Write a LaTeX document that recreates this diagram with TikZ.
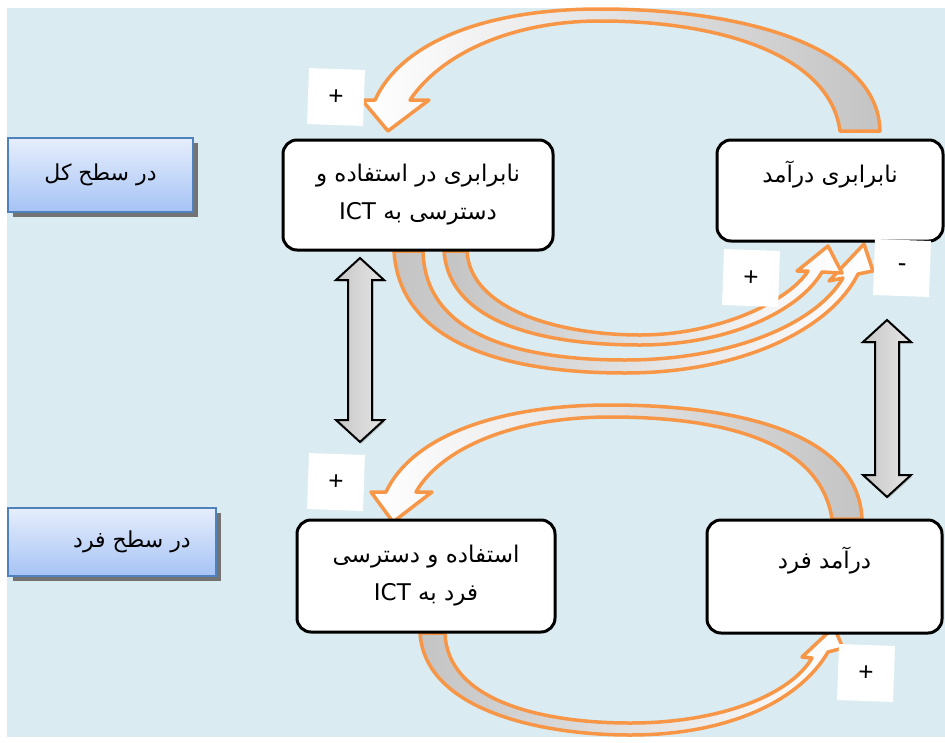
\documentclass[tikz,border=0pt]{standalone}
\usepackage{fontspec}
\setmainfont{Liberation Sans}
\newfontfamily\arabicfont[Script=Arabic]{DejaVu Sans}
\TeXXeTstate=1
\usetikzlibrary{shadows}
\definecolor{bgblue}{RGB}{218,236,242}
\definecolor{orng}{RGB}{247,150,70}
\definecolor{lbltop}{RGB}{230,238,252}
\definecolor{lblbot}{RGB}{166,195,245}
\definecolor{lblborder}{RGB}{79,129,189}
\definecolor{ribgray}{RGB}{196,196,196}
\begin{document}
\begin{tikzpicture}[x=1pt,y=-1pt,
  box/.style={draw=black, line width=3pt, rounded corners=14pt, fill=white, inner sep=0pt, align=center,
    font=\arabicfont\fontsize{23}{38}\selectfont},
  lvl/.style={draw=lblborder, line width=1.5pt, top color=lbltop, bottom color=lblbot, inner sep=0pt,
    font=\arabicfont\fontsize{22}{26}\selectfont,
    drop shadow={shadow xshift=5pt, shadow yshift=-5pt, fill=black!55, opacity=1}},
  sign/.style={fill=white, minimum size=56pt, inner sep=0pt, rotate=-2, font=\fontsize{26}{28}\selectfont},
  ribbon/.style={draw=orng, line width=3.5pt, line join=round},
  dbl/.style={draw=black, line width=2pt, line join=miter, left color=black!22, right color=black!10,
    drop shadow={shadow xshift=1.5pt, shadow yshift=-1.5pt, opacity=0.35}},
]
\useasboundingbox (0,0) rectangle (945,742);
\fill[white] (0,0) rectangle (945,742);
\fill[bgblue] (7,8) rectangle (945,737);

% level labels
\node[lvl, minimum width=185pt, minimum height=74pt] (lk) at (100.5,175) {\raisebox{6pt}{\beginR در سطح کل\endR}};
\node[lvl, minimum width=208pt, minimum height=68pt] (lf) at (112,542) {\hspace*{40pt}\beginR در سطح فرد\endR};

% ribbons (curved block arrows)
% top: B -> A
\draw[ribbon, left color=white, middle color=white, right color=ribgray]
  (880,131) .. controls (878,45) and (740,9) .. (600,9)
  .. controls (480,9) and (400,45) .. (375,100)
  -- (362,100) -- (388,131) -- (429,100) -- (410,100)
  .. controls (440,55) and (510,21) .. (600,21)
  .. controls (720,21) and (830,55) .. (840,131) -- cycle;
% middle: D -> C
\draw[ribbon, left color=white, middle color=white, right color=ribgray]
  (862,519) .. controls (858,430) and (730,405) .. (610,405)
  .. controls (490,405) and (410,440) .. (386,492)
  -- (371,492) -- (393,522) -- (432,492) -- (416,492)
  .. controls (440,450) and (510,417) .. (610,417)
  .. controls (720,417) and (820,440) .. (832,519) -- cycle;
% lower outer: A -> B (-)
\draw[ribbon, left color=ribgray, middle color=white, right color=white]
  (394,251) .. controls (400,350) and (520,373) .. (625,373)
  .. controls (740,373) and (830,330) .. (858,274)
  -- (873,271) -- (864,244) -- (829,281) -- (843,278)
  .. controls (815,325) and (730,360) .. (625,360)
  .. controls (530,360) and (425,340) .. (423,251) -- cycle;
% lower inner: A -> B (+)
\draw[ribbon, left color=ribgray, middle color=white, right color=white]
  (444,251) .. controls (450,330) and (560,345) .. (640,345)
  .. controls (730,345) and (800,310) .. (822,272)
  -- (842,273) -- (828,246) -- (797,271) -- (808,271)
  .. controls (790,300) and (720,335) .. (640,335)
  .. controls (560,335) and (470,310) .. (467,251) -- cycle;
% bottom: C -> D
\draw[ribbon, left color=ribgray, middle color=white, right color=white]
  (420,633) .. controls (425,710) and (540,735) .. (630,735)
  .. controls (730,735) and (800,700) .. (828,652)
  -- (843,648) -- (834,627) -- (802,657) -- (812,658)
  .. controls (790,695) and (720,723) .. (630,723)
  .. controls (540,723) and (447,700) .. (445,633) -- cycle;

% main boxes
\node[box, minimum width=270pt, minimum height=110pt] (A) at (418,195)
  {\beginR نابرابری در استفاده و\endR\\\beginR دسترسی به \beginL ICT\endL\endR};
\node[box, minimum width=226pt, minimum height=101pt] (B) at (830,190.5)
  {\beginR نابرابری درآمد\endR\\\mbox{}};
\node[box, minimum width=258pt, minimum height=112pt] (C) at (426,576)
  {\beginR استفاده و دسترسی\endR\\\beginR فرد به \beginL ICT\endL\endR};
\node[box, minimum width=235pt, minimum height=113pt] (D) at (824.5,576.5)
  {\beginR درآمد فرد\endR\\\mbox{}};

% double arrows
\draw[dbl] (360,258) -- (384,280) -- (372,280) -- (372,420) -- (384,420) -- (360,442)
  -- (336,420) -- (348,420) -- (348,280) -- (336,280) -- cycle;
\draw[dbl] (887,320) -- (911,342) -- (899,342) -- (899,475) -- (911,475) -- (887,497)
  -- (863,475) -- (875,475) -- (875,342) -- (863,342) -- cycle;

% signs
\node[sign] (s1) at (336,97) {+};
\node[sign] (s2) at (751,278) {+};
\node[sign] (s3) at (902,268) {-};
\node[sign] (s4) at (336,482) {+};
\node[sign] (s5) at (866,673) {+};
\end{tikzpicture}
\end{document}
